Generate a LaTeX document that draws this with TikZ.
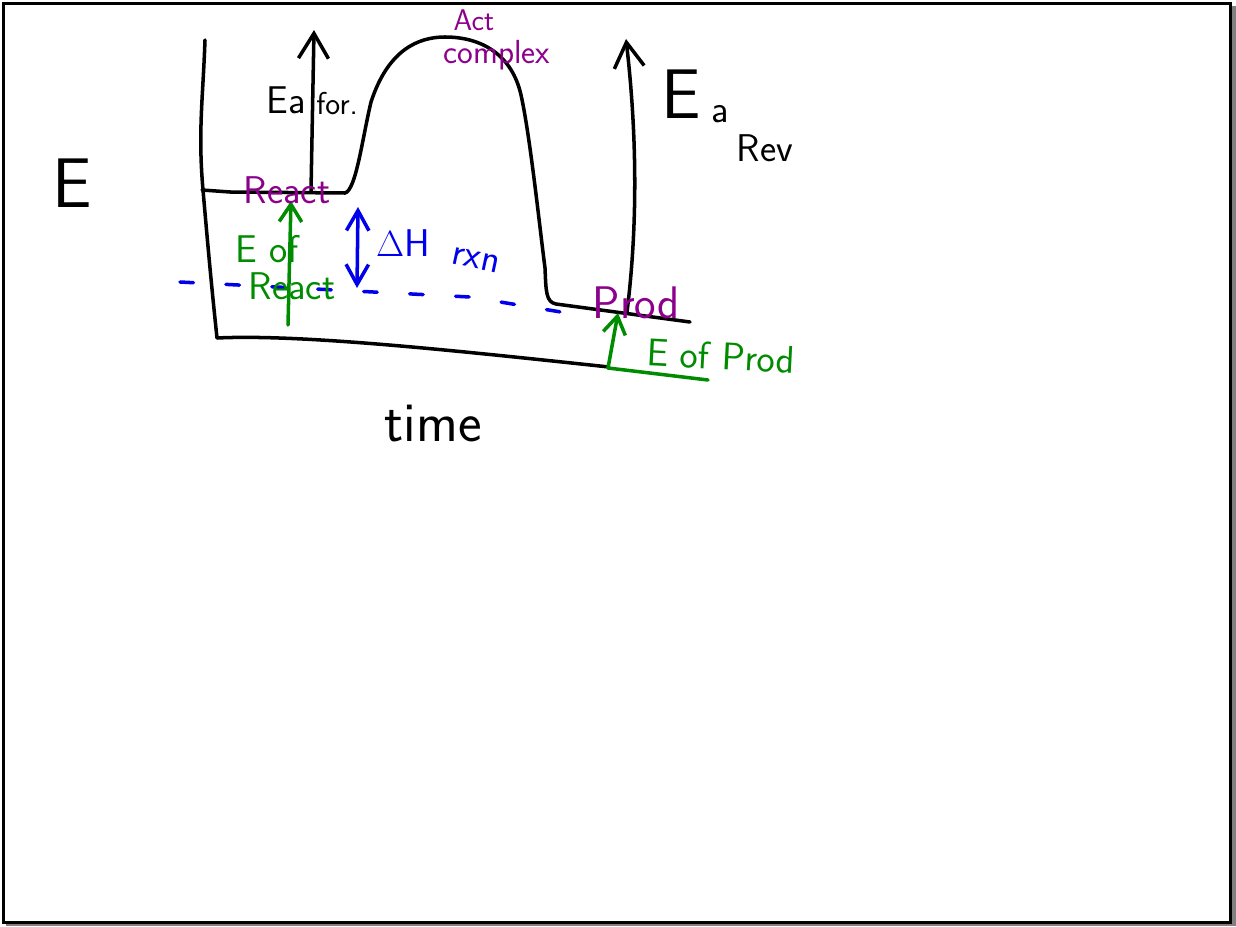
\documentclass[tikz,border=0pt]{standalone}
\usepackage{tikz}
\usetikzlibrary{arrows.meta}
\definecolor{inkpurple}{RGB}{140,0,140}
\definecolor{inkgreen}{RGB}{0,140,0}
\definecolor{inkblue}{RGB}{0,0,235}
\newcommand{\fsz}[1]{\fontsize{#1}{#1}\selectfont}
\tikzset{
  ink/.style    ={line width=2pt, line cap=round, line join=round},
  bigbarb/.style={ink, -{Straight Barb[length=5mm, width=6mm]}},
  dhbarb/.style ={ink, inkblue,
                  {Straight Barb[length=4mm, width=4.5mm]}-{Straight Barb[length=4mm, width=4.5mm]}},
  gbarb/.style  ={ink, inkgreen, -{Straight Barb[length=3.5mm, width=4.5mm]}},
  blvl/.style   ={ink, inkblue, dash pattern=on 0.27cm off 0.65cm},
  axlbl/.style  ={font=\sffamily\fsz{40}, inner sep=0pt},
  blab/.style   ={font=\sffamily\fsz{22}, inner sep=0pt},
  plab/.style   ={font=\sffamily\fsz{22}, inner sep=0pt, text=inkpurple},
  glab/.style   ={font=\sffamily\fsz{22}, inner sep=0pt, text=inkgreen},
  ulab/.style   ={font=\sffamily\fsz{22}, inner sep=0pt, text=inkblue},
}

\begin{document}
\begin{tikzpicture}[x=0.02cm, y=-0.02cm]
  \useasboundingbox (0,0) rectangle (1236,926);
  % page frame
  \fill[black!50] (6,6) rectangle (1236,926);
  \filldraw[fill=white, draw=black, line width=1.7pt] (3.5,3.5) rectangle (1230.5,922.5);
  % axes
  \draw[ink] (205,40) to[out=-92, in=95] (203,190) to[out=-85, in=96] (217,338)
    .. controls (300,334) and (450,350) .. (609,367);
  % energy profile
  \draw[ink] (202,190) -- (230,192) -- (345,193)
    .. controls (356,190) and (362,140) .. (371,102)
    .. controls (388,50) and (418,37) .. (445,37)
    .. controls (482,37) and (512,55) .. (521,95)
    .. controls (530,135) and (540,230) .. (545,268)
    .. controls (546,292) and (546,302) .. (556,304) -- (690,322);
  % product level, dashed
  \draw[blvl] (180,282) -- (470,297) -- (567,313);
  % Ea arrows
  \coordinate (fwbase) at (311,191);
  \coordinate (fwtip)  at (314,30);
  \draw[bigbarb] (fwbase) -- (fwtip);
  \coordinate (rvbase) at (627,312);
  \coordinate (rvtip)  at (626,39);
  \draw[bigbarb] (rvbase) .. controls (641,200) and (633,100) .. (rvtip);
  % enthalpy arrow
  \coordinate (dhtop) at (358,207);
  \coordinate (dhbot) at (357,288);
  \draw[dhbarb] (dhtop) -- (dhbot);
  % energy of reactants / products
  \coordinate (erbase) at (288,325);
  \coordinate (ertip)  at (291,201);
  \draw[gbarb] (erbase) -- (ertip);
  \coordinate (epbase) at (608,368);
  \coordinate (eptip)  at (618,313);
  \coordinate (epend)  at (708,380);
  \draw[gbarb] (epbase) -- (eptip);
  \draw[ink, inkgreen] (epbase) -- (epend);
  % labels
  \node[axlbl] (elab) at (72,183) {E};
  \node[font=\sffamily\fsz{32}, inner sep=0pt] (tlab) at (433,424) {time};
  \node[blab, anchor=east] (eafw) at (306,100) {Ea};
  \node[font=\sffamily\fsz{18}, inner sep=0pt, anchor=west] (fwd) at (316,104) {for.};
  \node[axlbl] (earv) at (681,94) {E};
  \node[blab] (arv) at (720,114) {a};
  \node[blab] (rev) at (765,148) {Rev};
  \node[plab] (react) at (287,190) {React};
  \node[font=\sffamily\fsz{17}, inner sep=0pt, text=inkpurple] (act) at (474,20) {Act};
  \node[font=\sffamily\fsz{19}, inner sep=0pt, text=inkpurple] (cplx) at (497,55) {complex};
  \node[font=\sffamily\fsz{26}, inner sep=0pt, text=inkpurple] (prod) at (636,303) {Prod};
  \node[glab] (eof) at (267,249) {E of};
  \node[glab] (greact) at (292,286) {React};
  \node[glab, rotate=-3] (eprod) at (721,356) {E of Prod};
  \node[font=\sffamily\fsz{22}, inner sep=0pt, text=inkblue] (dh) at (403,243) {$\Delta$H};
  \node[ulab, rotate=-12] (rxn) at (476,260) {rxn};
\end{tikzpicture}
\end{document}
